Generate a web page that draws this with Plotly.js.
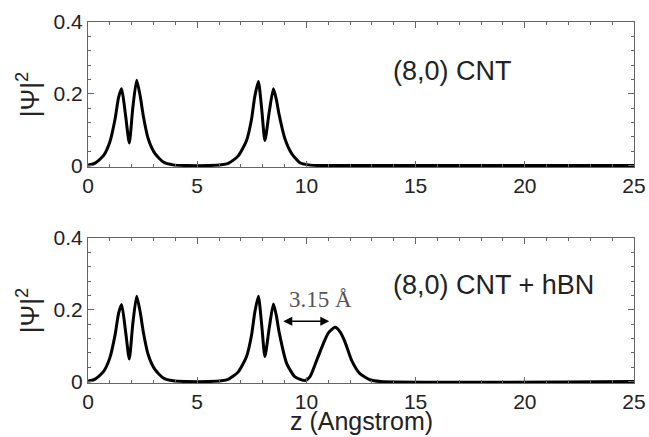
<!DOCTYPE html>
<html>
<head>
<meta charset="utf-8">
<script src="https://cdn.plot.ly/plotly-3.0.1.min.js"></script>
<style>html,body{margin:0;padding:0;background:#fff;}#chart{width:649px;height:437px;}</style>
</head>
<body>
<div id="chart"></div>
<script>
// z positions (Angstrom) and |Psi|^2 values
const zCNT = [0, 0.3, 0.7, 1.0, 1.24, 1.4, 1.54, 1.72, 1.89, 2.05, 2.23, 2.4, 2.53, 2.76, 3.07, 3.45, 3.9, 4.5,
              5.5, 6.1, 6.42, 6.88, 7.26, 7.49, 7.63, 7.8, 7.95, 8.1, 8.3, 8.49, 8.62, 8.76, 9.02, 9.33, 9.7, 10.1, 10.6, 25];
const psiCNT = [0.001, 0.006, 0.027, 0.066, 0.13, 0.19, 0.214, 0.14, 0.063, 0.16, 0.238, 0.19, 0.139, 0.074, 0.033, 0.01, 0.002, 0,
                0, 0.002, 0.006, 0.027, 0.07, 0.13, 0.19, 0.234, 0.16, 0.07, 0.15, 0.214, 0.185, 0.139, 0.074, 0.033, 0.008, 0.002, 0, 0];

const zHBN = [0, 0.3, 0.7, 1.0, 1.24, 1.4, 1.54, 1.72, 1.89, 2.05, 2.23, 2.4, 2.53, 2.76, 3.07, 3.45, 3.9, 4.5,
              5.5, 6.1, 6.42, 6.88, 7.26, 7.49, 7.63, 7.8, 7.95, 8.1, 8.3, 8.49, 8.62, 8.76, 9.1, 9.48, 9.94, 10.16, 10.47, 10.77, 11.0, 11.31, 11.55, 11.77, 12.07, 12.45, 12.91, 13.4, 25];
const psiHBN = [0.001, 0.006, 0.027, 0.066, 0.13, 0.19, 0.215, 0.14, 0.063, 0.16, 0.238, 0.19, 0.139, 0.074, 0.033, 0.01, 0.002, 0,
                0, 0.002, 0.006, 0.027, 0.07, 0.13, 0.19, 0.238, 0.16, 0.07, 0.15, 0.216, 0.185, 0.135, 0.05, 0.013, 0.003, 0.013, 0.059, 0.105, 0.135, 0.151, 0.138, 0.11, 0.059, 0.022, 0.005, 0, 0];

const xTickVals = [0, 5, 10, 15, 20, 25];
const yTickVals = [0, 0.2, 0.4];
const yTickText = ['0', '0.2', '0.4'];
const labelTop = '(8,0) CNT';
const labelBottom = '(8,0) CNT + hBN';
const xTitle = 'z (Angstrom)';
const gapLabel = '3.15 Å';
const gapStart = 8.87, gapEnd = 11.05, gapY = 0.168;

const tickFont = {family: 'Liberation Sans, Arial, sans-serif', size: 21, color: '#222'};
const lineStyle = {color: '#000', width: 3, shape: 'spline', smoothing: 0.6};

const xBase = {
  range: [0, 25], tickvals: xTickVals, ticks: 'inside', ticklen: 6, tickwidth: 1, tickcolor: '#666',
  minor: {dtick: 1, ticks: 'inside', ticklen: 3, tickcolor: '#666'},
  showline: true, linecolor: '#666', linewidth: 1, mirror: 'allticks', showgrid: false, zeroline: false,
  tickfont: tickFont, fixedrange: true
};
const yBase = {
  range: [-0.004, 0.4], tickvals: yTickVals, ticktext: yTickText, ticks: 'inside', ticklen: 6, tickwidth: 1, tickcolor: '#666',
  minor: {tickvals: [0.04,0.08,0.12,0.16,0.24,0.28,0.32,0.36], ticks: 'inside', ticklen: 3, tickcolor: '#666'},
  showline: true, linecolor: '#666', linewidth: 1, mirror: 'allticks', showgrid: false, zeroline: false,
  tickfont: tickFont, fixedrange: true,
  title: {text: '|Ψ|<sup>2</sup>', font: {family: 'Liberation Sans, Arial, sans-serif', size: 26, color: '#222'}, standoff: 6}
};

const data = [
  {x: zCNT, y: psiCNT, xaxis: 'x', yaxis: 'y', mode: 'lines', line: lineStyle, hoverinfo: 'skip'},
  {x: zHBN, y: psiHBN, xaxis: 'x2', yaxis: 'y2', mode: 'lines', line: lineStyle, hoverinfo: 'skip'}
];

const layout = {
  width: 649, height: 437,
  margin: {l: 88, r: 15, t: 22, b: 54},
  paper_bgcolor: '#fff', plot_bgcolor: '#fff',
  showlegend: false,
  xaxis: Object.assign({}, xBase, {anchor: 'y'}),
  yaxis: Object.assign({}, yBase, {domain: [0.5983, 1], anchor: 'x'}),
  xaxis2: Object.assign({}, xBase, {anchor: 'y2'}),
  yaxis2: Object.assign({}, yBase, {domain: [0, 0.4017], anchor: 'x2'}),
  annotations: [
    {xref: 'x', yref: 'y', x: 16.71, y: 0.263, text: labelTop, showarrow: false,
     font: {family: 'Liberation Sans, Arial, sans-serif', size: 27, color: '#222'}},
    {xref: 'x2', yref: 'y2', x: 18.57, y: 0.27, text: labelBottom, showarrow: false,
     font: {family: 'Liberation Sans, Arial, sans-serif', size: 27, color: '#222'}},
    {xref: 'x2', yref: 'y2', x: gapEnd, y: gapY, axref: 'x2', ayref: 'y2', ax: gapStart, ay: gapY,
     text: '', showarrow: true, arrowside: 'end+start', arrowhead: 2, arrowsize: 1.2, arrowwidth: 1.5, arrowcolor: '#000'},
    {xref: 'x2', yref: 'y2', x: 10.66, y: 0.228, text: gapLabel, showarrow: false,
     font: {family: 'Liberation Serif, DejaVu Serif, serif', size: 23, color: '#555'}},
    {xref: 'paper', yref: 'paper', x: 0.5, y: -0.105, yanchor: 'middle', text: xTitle, showarrow: false,
     font: {family: 'Liberation Sans, Arial, sans-serif', size: 25, color: '#222'}}
  ]
};

Plotly.newPlot('chart', data, layout, {displayModeBar: false, staticPlot: true});
</script>
</body>
</html>
